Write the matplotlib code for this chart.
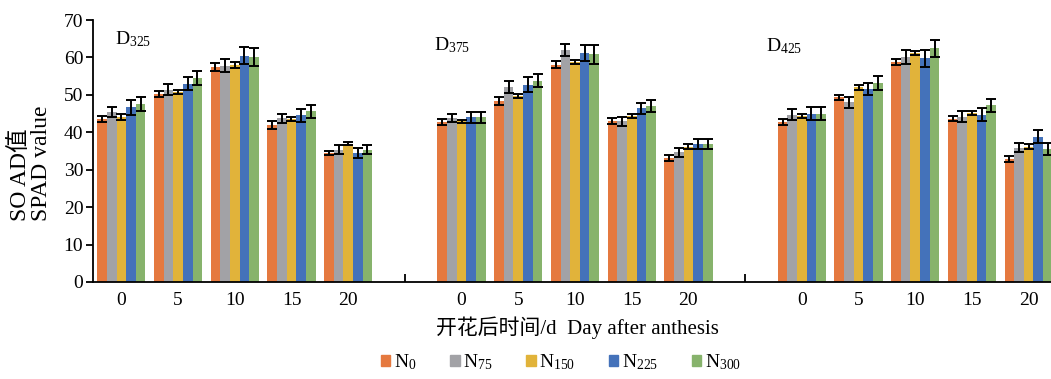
import matplotlib
matplotlib.use("Agg")
from matplotlib import pyplot as plt
from matplotlib.patches import Patch
import numpy as np

plt.rcParams['font.family'] = ['Liberation Serif', 'Noto Sans CJK SC']
plt.rcParams['mathtext.fontset'] = 'custom'
plt.rcParams['mathtext.rm'] = 'Liberation Serif'
plt.rcParams['mathtext.default'] = 'regular'

# 数据
days = ['0', '5', '10', '15', '20']
panels = ['D$_{325}$', 'D$_{375}$', 'D$_{425}$']
series = ['N$_{0}$', 'N$_{75}$', 'N$_{150}$', 'N$_{225}$', 'N$_{300}$']
colors = ['#E5793F', '#A2A2A6', '#E1B33A', '#4472BA', '#87B36C']

# 每个处理: D325(0,5,10,15,20) + D375 + D425
n0 = [43.6, 50.2, 57.4, 42.0, 34.4, 42.8, 48.4, 58.1, 43.1, 33.0, 42.7, 49.3, 58.8, 43.6, 32.8]
n75 = [45.4, 51.4, 57.8, 43.8, 35.4, 43.8, 52.0, 61.9, 43.0, 34.6, 44.7, 48.0, 60.1, 44.2, 35.9]
n150 = [44.1, 50.8, 58.1, 43.6, 37.0, 42.9, 49.6, 58.8, 44.4, 36.2, 44.4, 52.0, 61.2, 45.1, 36.2]
n225 = [46.7, 53.0, 60.5, 44.5, 34.4, 44.0, 52.7, 61.2, 46.4, 36.9, 45.0, 51.6, 59.8, 44.7, 38.8]
n300 = [47.6, 54.5, 60.1, 45.6, 35.4, 44.0, 53.8, 60.8, 47.1, 36.8, 45.0, 53.2, 62.4, 47.2, 35.5]

n0_err = [0.8, 0.8, 1.0, 1.0, 0.6, 0.8, 1.0, 0.9, 0.8, 0.8, 0.8, 0.7, 0.9, 0.7, 0.8]
n75_err = [1.4, 1.4, 1.8, 1.2, 1.2, 1.1, 1.6, 1.6, 1.2, 1.2, 1.4, 1.4, 1.8, 1.4, 1.3]
n150_err = [0.7, 0.6, 0.8, 0.6, 0.4, 0.5, 0.5, 0.6, 0.5, 0.6, 0.6, 0.6, 0.6, 0.6, 0.6]
n225_err = [2.0, 1.8, 2.2, 1.8, 1.4, 1.4, 2.0, 2.2, 1.4, 1.4, 1.8, 1.6, 2.3, 1.8, 1.7]
n300_err = [1.9, 1.8, 2.3, 1.8, 1.3, 1.5, 1.8, 2.5, 1.6, 1.3, 1.8, 1.8, 2.3, 1.8, 1.6]

means = [n0, n75, n150, n225, n300]
errs = [n0_err, n75_err, n150_err, n225_err, n300_err]

# 类别位置（每个处理之间留一个空类别）
x = np.array([p * 6 + i for p in range(3) for i in range(5)])
gaps = [5, 11]

fig = plt.figure(figsize=(10.51, 3.79), dpi=100)
ax = fig.add_axes([93 / 1051, 97 / 379, 964 / 1051, 262 / 379])

w = 0.17
for k in range(5):
    ax.bar(x + (k - 2) * w, means[k], w, color=colors[k], label=series[k],
           yerr=errs[k], error_kw=dict(ecolor='black', elinewidth=1.4, capsize=3.6, capthick=1.4))

ax.set_xlim(-0.5, 16.5)
ax.set_ylim(0, 70)
ax.set_yticks(range(0, 71, 10))
ax.set_xticks(x)
ax.set_xticklabels(days * 3)
ax.set_xticks(gaps, minor=True)
ax.tick_params(axis='x', which='major', length=0, labelsize=14, pad=7)
ax.tick_params(axis='x', which='minor', direction='in', length=6, width=1.3)
ax.tick_params(axis='y', direction='out', length=5, width=1.3, labelsize=14, pad=2)
ax.spines['top'].set_visible(False)
ax.spines['right'].set_visible(False)
ax.spines['left'].set_linewidth(1.3)
ax.spines['bottom'].set_linewidth(1.3)

# 处理标注
for p, name in enumerate(panels):
    ax.text(p * 6 - 0.12 + [0, -0.37, -0.52][p], [64.8, 63.4, 62.9][p], name, fontsize=14, va='center')

fig.text(31 / 1051, 1 - 163 / 379, 'SO AD值\nSPAD value', rotation=90, fontsize=17,
         ha='center', va='center', multialignment='left', linespacing=1.0)
fig.text(577 / 1051, 1 - 328 / 379, '开花后时间/d  Day after anthesis', fontsize=15,
         ha='center', va='center')

handles = [Patch(color=c) for c in colors]
fig.legend(handles, series, loc='center', bbox_to_anchor=(561 / 1051, 1 - 362 / 379), ncol=5,
           frameon=False, fontsize=14, handlelength=0.5, handleheight=0.5, handletextpad=0.2,
           columnspacing=1.7)

plt.savefig('out.png', dpi=100)
